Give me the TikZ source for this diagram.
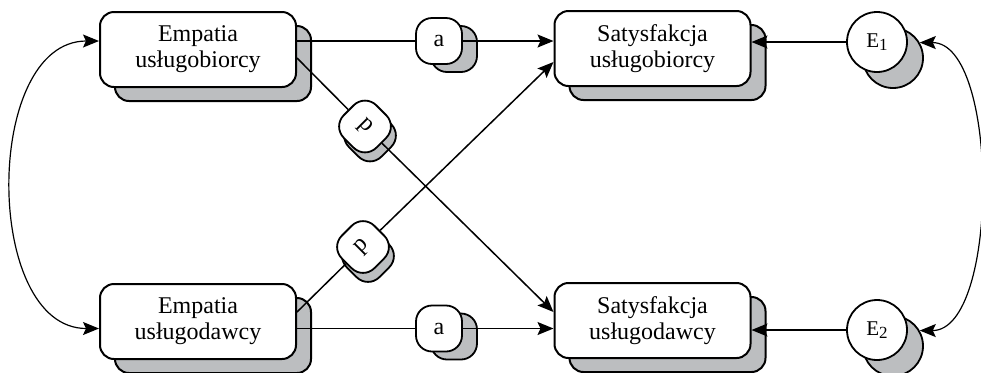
\documentclass[tikz,border=0pt]{standalone}
\usepackage{fontspec}
\setmainfont{Liberation Serif}
\usetikzlibrary{arrows.meta, shadows}
\definecolor{shadowgray}{HTML}{BCBEC0}
\tikzset{
  box/.style = {rectangle, draw, line width=1pt, fill=white, rounded corners=7pt, minimum width=98pt, minimum height=37.5pt, align=center, font=\fontsize{12}{13}\selectfont,
    general shadow={shadow xshift=7.5pt, shadow yshift=-7pt, fill=shadowgray, draw=black, line width=1pt}},
  oval/.style = {rectangle, rounded corners=8pt, draw, line width=0.9pt, fill=white, minimum width=23pt, minimum height=23pt, inner sep=0pt, font=\fontsize{12}{13}\selectfont},
  ovalshadow/.style = {general shadow={shadow xshift=#1, fill=shadowgray, draw=black, line width=0.9pt}},
  err/.style = {circle, draw, line width=0.9pt, fill=white, minimum size=30pt, inner sep=0pt, font=\fontsize{10.5}{11}\selectfont,
    general shadow={shadow xshift=8pt, shadow yshift=-8pt, fill=shadowgray, draw=black, line width=0.9pt}},
  conn/.style = {line width=0.75pt},
  arrow/.style = {-{Stealth[length=8pt, width=6.5pt, inset=1.5pt]}, line width=0.75pt},
  biarrow/.style = {{Stealth[length=8pt, width=6.5pt, inset=1.5pt]}-{Stealth[length=8pt, width=6.5pt, inset=1.5pt]}, line width=0.6pt},
}
\newcommand{\errlab}[1]{E\raisebox{-0.35ex}{\fontsize{8.5}{9}\selectfont #1}}

\begin{document}
\begin{tikzpicture}[x=0.5pt, y=-0.5pt]
    \useasboundingbox (0,0) rectangle (981,372);

    % Nodes
    \node (EU) [box] at (198,49.5) {Empatia\\usługobiorcy};
    \node (ED) [box] at (198,321.5) {Empatia\\usługodawcy};
    \node (SU) [box] at (652.5,48.5) {Satysfakcja\\usługobiorcy};
    \node (SD) [box] at (652.5,320.5) {Satysfakcja\\usługodawcy};

    \node (a1) [oval, ovalshadow={7.5pt, shadow yshift=-4pt}] at (439,41) {a};
    \node (a2) [oval, ovalshadow={7.5pt, shadow yshift=-4pt}] at (439,328.5) {a};
    \node (p1) [oval, rotate=-45, ovalshadow={2.5pt, shadow yshift=-4.5pt}] at (365,126.5) {p};
    \node (p2) [oval, rotate=45, ovalshadow={2.5pt, shadow yshift=-4.5pt}] at (363,247) {p};

    \node (E1) [err] at (877,42) {\errlab{1}};
    \node (E2) [err] at (877,330) {\errlab{2}};

    % Arrows
    \draw [conn] (EU.east |- a1) -- (a1);
    \draw [arrow] (a1) -- (SU.west |- a1);
    \draw [conn] (ED.east |- a2) -- (a2);
    \draw [arrow] (a2) -- (SD.west |- a2);

    \draw [conn] ([yshift=-4.25pt]EU.east) -- (p1);
    \draw [arrow] (p1) -- ([yshift=4.25pt]SD.west);
    \draw [conn] ([yshift=4.75pt]ED.east) -- (p2);
    \draw [arrow] (p2) -- ([yshift=-6.75pt]SU.west);

    \draw [arrow] (E1) -- (SU.east |- E1);
    \draw [arrow] (E2) -- (SD.east |- E2);

    \draw [biarrow] (EU.west |- a1) .. controls +(-116,0) and +(-116,0) .. (ED.west |- a2);
    \draw [biarrow] ([shift={(16,16)}]E1.30) .. controls +(80,0) and +(80,0) .. ([shift={(16,16)}]E2.30);

\end{tikzpicture}
\end{document}
